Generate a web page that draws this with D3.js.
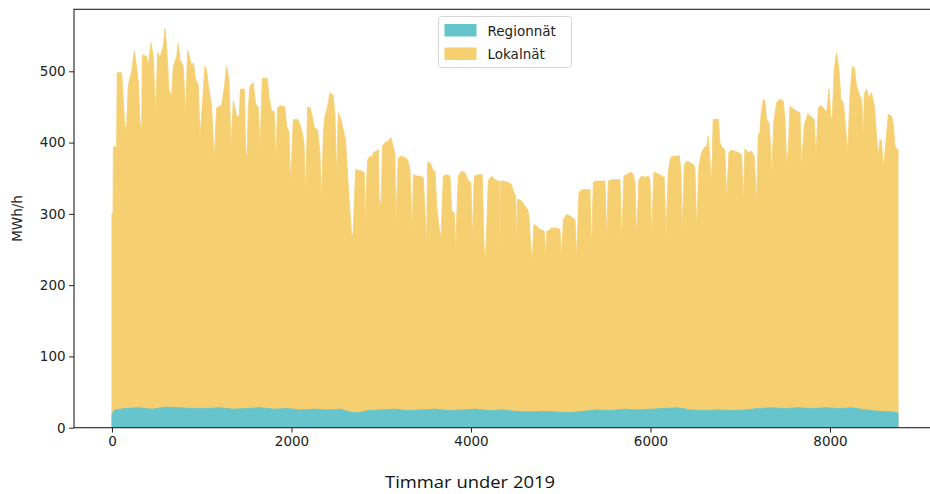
<!DOCTYPE html>
<html>
<head>
<meta charset="utf-8">
<script src="https://cdn.jsdelivr.net/npm/d3@7"></script>
<style>
  body { margin: 0; background: #fff; }
  svg { display: block; font-family: 'DejaVu Sans', sans-serif; }
</style>
</head>
<body>
<div class="canvas"></div>
<script>
// outline of the hourly series as [hour, MWh/h]
// yellow = top of the stack (Regionnät + Lokalnät)
const lokalnatTop = [
  [0,300],[12,300],[16,394],[52,394],[58,498],[108,498],[121,470],[145,418],[164,425],[182,481],[219,500],[249,528],[275,507],[294,484],[312,428],[331,418],[338,523],[386,521],[405,507],[434,540],[461,520],[479,460],[486,441],[509,526],[535,520],[572,535],[591,560],[609,535],[635,474],[665,465],[684,507],[721,521],[739,539],[758,516],[794,507],[821,437],[843,530],[880,511],[907,511],[932,488],[962,481],[980,408],[1006,450],[1036,507],[1054,502],[1073,481],[1110,451],[1140,376],[1166,449],[1221,452],[1252,477],[1277,507],[1304,488],[1326,394],[1352,458],[1390,437],[1420,437],
  [1430,475],[1475,475],[1489,390],[1504,376],[1519,447],[1537,479],[1574,484],[1601,454],[1630,450],[1649,390],[1675,490],[1731,490],[1749,465],[1779,444],[1808,444],[1824,372],[1846,449],[1872,452],[1927,450],[1946,423],[1972,415],[1991,341],[2020,432],[2076,432],[2113,418],[2139,400],[2158,323],[2180,450],[2206,449],[2232,437],[2254,421],[2291,418],[2317,386],[2336,313],[2355,414],[2373,437],[2402,450],[2429,470],[2466,466],[2485,437],[2503,353],[2522,442],[2551,432],[2577,418],[2603,404],[2633,339],[2663,283],[2677,264],[2689,278],[2714,362],[2782,360],[2811,358],[2819,288],[2848,376],[2875,381],
  [2900,379],[2912,386],[2949,388],[2968,390],[2978,320],[2997,311],[3015,395],[3042,400],[3079,402],[3108,407],[3135,393],[3153,386],[3164,287],[3190,379],[3228,381],[3265,379],[3294,376],[3320,362],[3346,273],[3358,355],[3395,353],[3432,353],[3469,351],[3495,283],[3506,255],[3517,372],[3543,372],[3581,360],[3599,360],[3618,311],[3643,283],[3666,266],[3692,353],[3729,355],[3766,353],[3785,304],[3814,302],[3829,250],[3858,353],[3895,360],[3933,358],[3970,346],[4000,344],[4015,264],[4037,353],[4081,355],[4126,355],[4145,255],[4163,236],[4193,346],[4230,353],[4267,348],[4304,346],
  [4318,346],[4323,250],[4332,346],[4360,346],[4416,344],[4453,341],[4471,332],[4498,325],[4509,250],[4518,320],[4535,320],[4564,318],[4601,311],[4632,306],[4646,297],[4668,250],[4683,236],[4702,285],[4731,283],[4769,278],[4816,276],[4832,238],[4846,276],[4861,276],[4899,280],[4954,280],[4991,278],[5010,238],[5029,292],[5066,299],[5103,297],[5140,294],[5159,292],[5177,238],[5204,330],[5233,334],[5270,334],[5307,334],[5326,334],[5344,250],[5363,344],[5400,346],[5456,346],[5493,346],[5512,262],[5530,346],[5567,348],[5623,348],[5660,348],[5679,262],[5704,353],[5734,355],[5772,358],
  [5790,358],[5809,355],[5827,344],[5846,264],[5871,348],[5902,353],[5939,351],[5976,353],[5994,348],[6013,269],[6038,358],[6069,357],[6106,355],[6125,353],[6154,351],[6172,269],[6199,360],[6224,379],[6255,381],[6292,381],[6321,382],[6340,358],[6354,273],[6377,369],[6403,374],[6440,372],[6478,369],[6495,365],[6514,280],[6540,367],[6569,386],[6600,393],[6625,395],[6644,409],[6662,376],[6681,344],[6699,432],[6755,433],[6774,400],[6800,393],[6829,390],[6848,320],[6874,386],[6897,389],[6941,388],[6978,386],[7015,383],[7034,313],[7052,391],[7090,386],[7127,388],[7157,381],[7183,311],[7201,411],[7220,414],
  [7231,437],[7257,461],[7276,458],[7294,432],[7320,428],[7339,395],[7350,353],[7376,432],[7406,456],[7443,461],[7480,458],[7499,432],[7517,369],[7536,390],[7554,451],[7591,447],[7628,444],[7666,442],[7684,365],[7714,425],[7751,440],[7788,437],[7825,432],[7844,381],[7870,449],[7900,452],[7937,447],[7963,442],[7989,475],[8011,432],[8026,437],[8048,503],[8074,526],[8100,503],[8122,461],[8149,456],[8167,432],[8197,386],[8223,465],[8249,507],[8271,505],[8297,479],[8334,465],[8353,461],[8371,404],[8382,468],[8408,475],[8434,463],[8464,470],[8494,451],[8520,409],[8538,381],[8557,404],[8575,402],[8594,362],[8620,397],[8650,440],[8687,437],[8706,425],[8724,395],[8754,390],[8759,390]
];

// teal = Regionnät
const regionnat = [
  [0,19],[30,25],[150,27],[300,28],[450,26],[600,29],[750,28],[900,27],[1050,27],[1200,28],[1350,26],[1500,27],[1650,28],[1800,26],[1950,27],[2100,25],[2250,26],[2400,25],[2550,26],[2650,22],[2750,21],[2850,24],[3000,25],[3150,26],[3300,24],[3450,25],[3600,26],[3750,24],[3900,25],[4050,26],[4200,24],[4350,25],[4500,23],[4650,22],[4800,23],[4950,22],[5100,21],[5250,23],[5400,25],[5550,24],[5700,26],[5850,25],[6000,26],[6150,27],[6300,28],[6450,25],[6600,24],[6750,25],[6900,24],[7050,25],[7200,27],[7350,28],[7500,27],[7650,28],[7800,27],[7950,28],[8100,27],[8250,28],[8400,25],[8550,23],[8700,22],[8759,21]
];

const seriesNames = ['Regionnät', 'Lokalnät'];
const seriesColors = ['#66c5cc', '#f6cf71'];
const xTicks = [0, 2000, 4000, 6000, 8000];
const yTicks = [0, 100, 200, 300, 400, 500];
const xTitle = 'Timmar under 2019';
const yTitle = 'MWh/h';

const svg = d3.select('.canvas')
    .append('svg')
    .attr('width', 930)
    .attr('height', 494);

// plot box (right spine falls just outside the picture)
const box = { left: 74, right: 937.4, top: 9.3, bottom: 427.7 };

const x = d3.scaleLinear().domain([-423, 9197]).range([box.left, box.right]);
const y = d3.scaleLinear().domain([0, 587]).range([box.bottom, box.top]);

svg.append('clipPath').attr('id', 'plot')
    .append('rect')
    .attr('x', box.left).attr('y', box.top)
    .attr('width', box.right - box.left).attr('height', box.bottom - box.top);

const plot = svg.append('g').attr('clip-path', 'url(#plot)');

const area = d3.area()
    .x(d => x(d[0]))
    .y0(y(0))
    .y1(d => y(d[1]));

plot.append('path')
    .datum(lokalnatTop)
    .attr('d', area)
    .attr('fill', seriesColors[1])
    .attr('stroke', seriesColors[1])
    .attr('stroke-width', 0.8);

plot.append('path')
    .datum(regionnat)
    .attr('d', area)
    .attr('fill', seriesColors[0])
    .attr('stroke', seriesColors[0])
    .attr('stroke-width', 0.8);

// axes
const xAxis = d3.axisBottom(x).tickValues(xTicks).tickFormat(d3.format('d')).tickSize(4.9).tickPadding(3.5);
const yAxis = d3.axisLeft(y).tickValues(yTicks).tickFormat(d3.format('d')).tickSize(4.9).tickPadding(3.5);

const xAxisGroup = svg.append('g')
    .attr('transform', `translate(0, ${box.bottom})`)
    .call(xAxis);
const yAxisGroup = svg.append('g')
    .attr('transform', `translate(${box.left}, 0)`)
    .call(yAxis);

[xAxisGroup, yAxisGroup].forEach(g => {
    g.select('.domain').remove();
    g.selectAll('line').attr('stroke', '#222').attr('stroke-width', 1);
    g.selectAll('text')
        .attr('fill', '#222')
        .style('font-size', '13.5px')
        .style('font-family', "'DejaVu Sans', sans-serif");
});

// spines
svg.append('rect')
    .attr('x', box.left).attr('y', box.top)
    .attr('width', box.right - box.left).attr('height', box.bottom - box.top)
    .attr('fill', 'none')
    .attr('stroke', '#222')
    .attr('stroke-width', 1.1);

// axis titles
svg.append('text')
    .attr('transform', `translate(22, ${(box.top + box.bottom) / 2}) rotate(-90)`)
    .attr('text-anchor', 'middle')
    .attr('fill', '#222')
    .style('font-size', '13.5px')
    .text(yTitle);

svg.append('text')
    .attr('x', 470)
    .attr('y', 488)
    .attr('text-anchor', 'middle')
    .attr('fill', '#111')
    .attr('textLength', 170)
    .attr('lengthAdjust', 'spacingAndGlyphs')
    .style('font-family', "'Open Sans', sans-serif")
    .style('font-size', '17px')
    .text(xTitle);

// legend
const legend = svg.append('g').attr('transform', 'translate(438.5, 16.5)');
legend.append('rect')
    .attr('width', 133).attr('height', 51).attr('rx', 3)
    .attr('fill', '#fff').attr('fill-opacity', 0.8)
    .attr('stroke', '#d6d6d6');

seriesNames.forEach((name, i) => {
    legend.append('rect')
        .attr('x', 6).attr('y', 7.5 + i * 23.5)
        .attr('width', 32).attr('height', 12.5)
        .attr('fill', seriesColors[i]);
    legend.append('text')
        .attr('x', 49).attr('y', 19 + i * 23.5)
        .attr('fill', '#222')
        .style('font-size', '13.5px')
        .text(name);
});
</script>
</body>
</html>
